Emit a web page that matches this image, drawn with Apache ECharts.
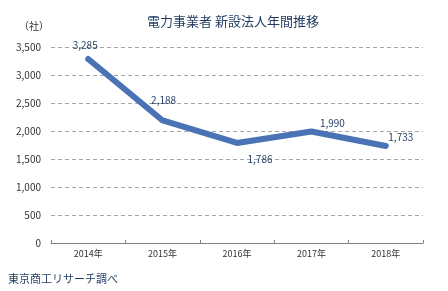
<!DOCTYPE html>
<html><head><meta charset="utf-8">
<script src="https://cdn.jsdelivr.net/npm/echarts@6/dist/echarts.min.js"></script>
<style>html,body{margin:0;padding:0;background:#fff}#c{width:448px;height:291px}</style>
</head><body><div id="c"></div>
<script>
const categories = ['2014年','2015年','2016年','2017年','2018年'];
const values = [3285, 2188, 1786, 1990, 1733];
const yTicks = [0, 500, 1000, 1500, 2000, 2500, 3000, 3500];
const titleText = '電力事業者 新設法人年間推移';
const unitText = '（社）';
const sourceText = '東京商工リサーチ調べ';

const labelOffsets = [[-3,-14],[1,-20],[23,16],[21,-8],[15,-9]];
const font = '"Noto Sans CJK JP", sans-serif';

const chart = echarts.init(document.getElementById('c'), null, {renderer:'canvas'});
chart.setOption({
  animation:false,
  backgroundColor:'#fff',
  title:[
    {text:titleText, left:228, top:10, textAlign:'center', textStyle:{fontSize:13, fontWeight:'normal', color:'#1f3a5f', fontFamily:font}},
    {text:unitText, left:14, top:16, textStyle:{fontSize:10, fontWeight:'normal', color:'#333', fontFamily:font}},
    {text:sourceText, left:3, top:268, textStyle:{fontSize:11, fontWeight:'normal', color:'#1f3a5f', fontFamily:font}}
  ],
  grid:{left:51, right:25, top:47, bottom:48},
  xAxis:{
    type:'category', data:categories, boundaryGap:true,
    axisLine:{lineStyle:{color:'#808080', width:1}},
    axisTick:{show:true, inside:true, length:3, lineStyle:{color:'#808080'}},
    axisLabel:{color:'#333', fontSize:9, fontFamily:font, margin:6}
  },
  yAxis:{
    type:'value', min:yTicks[0], max:yTicks[yTicks.length-1], interval:500,
    axisLine:{show:false}, axisTick:{show:false},
    axisLabel:{color:'#333', fontSize:10, fontFamily:font, margin:10,
      formatter:v=>v.toLocaleString('en-US')},
    splitLine:{lineStyle:{color:'#a6a6a6', type:[4,3], width:1}}
  },
  series:[{
    type:'line', showSymbol:true, symbol:'circle', symbolSize:2,
    itemStyle:{color:'#4a73b5'},
    lineStyle:{color:'#4a73b5', width:6, cap:'round', join:'round'},
    data: values.map((v,i)=>({value:v, label:{show:true, position:[labelOffsets[i][0]+1, labelOffsets[i][1]+1], align:'center', verticalAlign:'middle'}})),
    label:{show:true, color:'#1f3a5f', fontSize:10, fontFamily:font, formatter:p=>p.value.toLocaleString('en-US')},
    labelLayout:{hideOverlap:false}
  }]
});
</script></body></html>
